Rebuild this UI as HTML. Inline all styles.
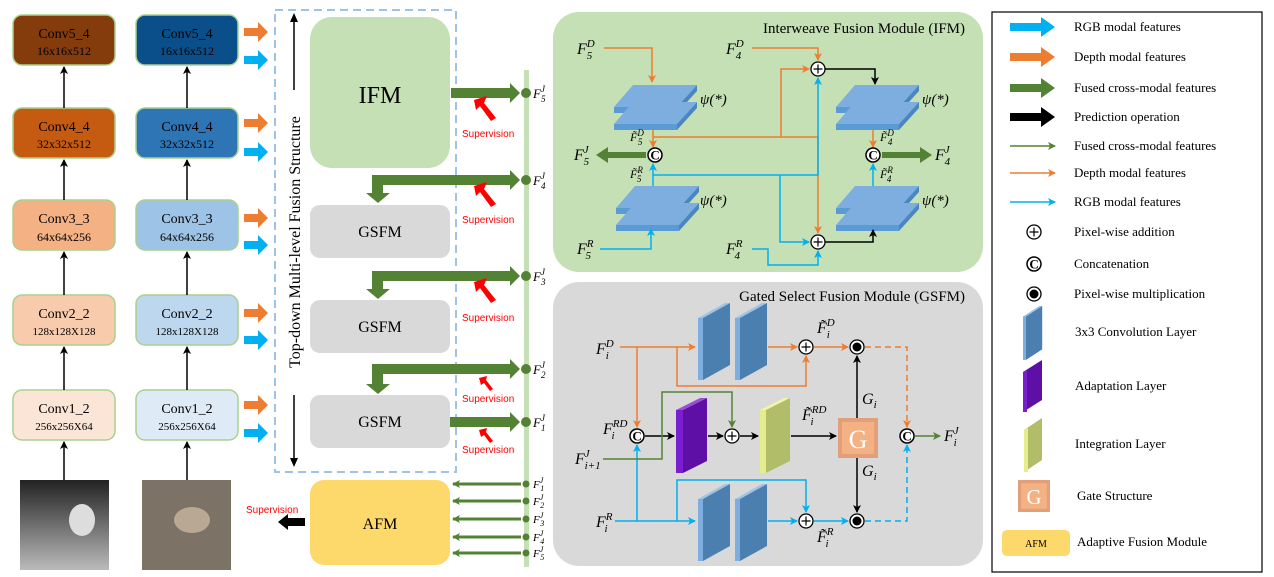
<!DOCTYPE html>
<html><head><meta charset="utf-8"><style>
html,body{margin:0;padding:0;background:#fff}
svg{display:block}
text{font-family:"Liberation Serif",serif}
.it{font-style:italic}
.sv{font-family:"Liberation Sans",sans-serif;fill:#ff0000;font-size:10px}
</style></head><body>
<svg width="1274" height="577" viewBox="0 0 1274 577" xmlns="http://www.w3.org/2000/svg">
<defs>
<marker id="ao" markerWidth="8" markerHeight="8" refX="7" refY="4" orient="auto" markerUnits="userSpaceOnUse"><path d="M0,0 L8,4 L0,8 L2,4z" fill="#ed7d31"/></marker>
<marker id="ab" markerWidth="8" markerHeight="8" refX="7" refY="4" orient="auto" markerUnits="userSpaceOnUse"><path d="M0,0 L8,4 L0,8 L2,4z" fill="#00b0f0"/></marker>
<marker id="ak" markerWidth="8" markerHeight="8" refX="7" refY="4" orient="auto" markerUnits="userSpaceOnUse"><path d="M0,0 L8,4 L0,8 L2,4z" fill="#000"/></marker>
<marker id="ag" markerWidth="8" markerHeight="8" refX="7" refY="4" orient="auto" markerUnits="userSpaceOnUse"><path d="M0,0 L8,4 L0,8 L2,4z" fill="#548235"/></marker>
<g id="plates">
<polygon points="0,22 19,0 83,0 63,22" fill="#7eaee0"/><polygon points="0,22 63,22 63,28 0,28" fill="#5b9bd5"/><polygon points="63,22 83,0 83,6 63,28" fill="#4a86c0"/>
<polygon points="0,39 19,17 83,17 63,39" fill="#7eaee0"/><polygon points="0,39 63,39 63,45 0,45" fill="#5b9bd5"/><polygon points="63,39 83,17 83,23 63,45" fill="#4a86c0"/>
</g>
<g id="conv"><polygon points="0,15 27,0 32,0 5,15" fill="#9dc3e6"/><polygon points="0,15 5,15 5,77 0,77" fill="#7eaee0"/><polygon points="5,15 32,0 32,62 5,77" fill="#4a7fb0"/></g>
<g id="plus"><circle r="7" fill="#fff" stroke="#000" stroke-width="1.3"/><path d="M-4.5,0H4.5M0,-4.5V4.5" stroke="#000" stroke-width="1.2"/></g>
<g id="cat"><circle r="7" fill="#fff" stroke="#000" stroke-width="1.5"/><text x="0" y="4.5" text-anchor="middle" font-size="13" font-weight="bold">C</text></g>
<g id="mul"><circle r="7" fill="#fff" stroke="#000" stroke-width="1.3"/><circle r="4.5" fill="#000"/></g>
<g id="gbox"><rect x="0" y="0" width="40" height="40" fill="#e2a07a"/><rect x="4" y="4" width="32" height="32" fill="#f4b183"/><text x="20" y="30" text-anchor="middle" font-size="26" fill="#fff">G</text></g>
<linearGradient id="dg" x1="0" y1="0" x2="0" y2="1"><stop offset="0" stop-color="#222"/><stop offset="1" stop-color="#bbb"/></linearGradient>
<g id="oa"><polygon points="244,24 258,24 258,18 268,28 258,38 258,32 244,32" fill="#ed7d31"/></g>
<g id="ba"><polygon points="244,46 258,46 258,40 268,50 258,60 258,54 244,54" fill="#00b0f0"/></g>
</defs>

<!-- Left columns -->
<g stroke="#a9d18e" stroke-width="1.5">
<rect x="13" y="15" width="102" height="50" rx="9" fill="#843c0c"/>
<rect x="13" y="108" width="102" height="50" rx="9" fill="#c55a11"/>
<rect x="13" y="200" width="102" height="50" rx="9" fill="#f4b183"/>
<rect x="13" y="295" width="102" height="50" rx="9" fill="#f8cbad"/>
<rect x="13" y="390" width="102" height="50" rx="9" fill="#fbe5d6"/>
<rect x="136" y="15" width="102" height="50" rx="9" fill="#0b4f8a"/>
<rect x="136" y="108" width="102" height="50" rx="9" fill="#2e75b6"/>
<rect x="136" y="200" width="102" height="50" rx="9" fill="#9dc3e6"/>
<rect x="136" y="295" width="102" height="50" rx="9" fill="#bdd7ee"/>
<rect x="136" y="390" width="102" height="50" rx="9" fill="#deebf7"/>
</g>
<g font-size="14" text-anchor="middle">
<text x="64" y="38">Conv5_4</text><text x="64" y="55" font-size="12">16x16x512</text>
<text x="64" y="131">Conv4_4</text><text x="64" y="148" font-size="12">32x32x512</text>
<text x="64" y="223">Conv3_3</text><text x="64" y="241" font-size="12">64x64x256</text>
<text x="64" y="318">Conv2_2</text><text x="64" y="335" font-size="11">128x128X128</text>
<text x="64" y="413">Conv1_2</text><text x="64" y="430" font-size="11">256x256X64</text>
<text x="187" y="38">Conv5_4</text><text x="187" y="55" font-size="12">16x16x512</text>
<text x="187" y="131">Conv4_4</text><text x="187" y="148" font-size="12">32x32x512</text>
<text x="187" y="223">Conv3_3</text><text x="187" y="241" font-size="12">64x64x256</text>
<text x="187" y="318">Conv2_2</text><text x="187" y="335" font-size="11">128x128X128</text>
<text x="187" y="413">Conv1_2</text><text x="187" y="430" font-size="11">256x256X64</text>
</g>
<g stroke="#000" stroke-width="1.5" marker-end="url(#ak)">
<line x1="64" y1="108" x2="64" y2="67"/><line x1="64" y1="200" x2="64" y2="160"/><line x1="64" y1="295" x2="64" y2="252"/><line x1="64" y1="390" x2="64" y2="347"/><line x1="64" y1="480" x2="64" y2="442"/>
<line x1="187" y1="108" x2="187" y2="67"/><line x1="187" y1="200" x2="187" y2="160"/><line x1="187" y1="295" x2="187" y2="252"/><line x1="187" y1="390" x2="187" y2="347"/><line x1="187" y1="480" x2="187" y2="442"/>
</g>
<rect x="20" y="480" width="89" height="90" fill="url(#dg)"/>
<ellipse cx="82" cy="520" rx="13" ry="16" fill="#ddd"/>
<rect x="142" y="480" width="89" height="90" fill="#7d7266"/>
<ellipse cx="192" cy="520" rx="18" ry="13" fill="#b8a894"/>
<use href="#oa" y="4"/><use href="#ba" y="10"/>
<use href="#oa" y="95"/><use href="#ba" y="102"/>
<use href="#oa" y="190"/><use href="#ba" y="195"/>
<use href="#oa" y="285"/><use href="#ba" y="290"/>
<use href="#oa" y="377"/><use href="#ba" y="383"/>

<!-- middle -->
<rect x="275" y="10" width="181" height="462" fill="none" stroke="#9dc3e6" stroke-width="2" stroke-dasharray="8,5"/>
<line x1="294" y1="18" x2="294" y2="90" stroke="#000" stroke-width="1.5"/>
<line x1="294" y1="395" x2="294" y2="462" stroke="#000" stroke-width="1.5"/>
<path d="M290,22 L294,13 L298,22z M290,458 L294,467 L298,458z" fill="#000"/>
<text transform="translate(300,242) rotate(-90)" text-anchor="middle" font-size="16">Top-down Multi-level Fusion Structure</text>
<rect x="310" y="17" width="140" height="151" rx="22" fill="#c5e0b4"/>
<text x="380" y="103" text-anchor="middle" font-size="24">IFM</text>
<rect x="310" y="205" width="140" height="53" rx="10" fill="#d9d9d9"/>
<rect x="310" y="300" width="140" height="53" rx="10" fill="#d9d9d9"/>
<rect x="310" y="395" width="140" height="53" rx="10" fill="#d9d9d9"/>
<text x="380" y="237" text-anchor="middle" font-size="16">GSFM</text>
<text x="380" y="332" text-anchor="middle" font-size="16">GSFM</text>
<text x="380" y="427" text-anchor="middle" font-size="16">GSFM</text>
<rect x="310" y="480" width="140" height="85" rx="14" fill="#fdd86a"/>
<text x="380" y="529" text-anchor="middle" font-size="16">AFM</text>
<rect x="524" y="70" width="5" height="497" fill="#c5e0b4"/>
<g fill="#548235">
<polygon points="451,88 510,88 510,83 520,93 510,103 510,98 451,98"/>
<polygon points="372,175 510,175 510,170 520,180 510,190 510,185 383,185 383,193 390,193 378,203 366,193 372,193"/>
<polygon points="372,271 510,271 510,266 520,276 510,286 510,281 383,281 383,289 390,289 378,299 366,289 372,289"/>
<polygon points="372,364 510,364 510,359 520,369 510,379 510,374 383,374 383,384 390,384 378,394 366,384 372,384"/>
<polygon points="450,417 510,417 510,412 520,422 510,432 510,427 450,427"/>
<circle cx="526" cy="93" r="5"/><circle cx="526" cy="180" r="5"/><circle cx="526" cy="276" r="5"/><circle cx="526" cy="369" r="5"/><circle cx="526" cy="422" r="5"/>
</g>
<g class="it" font-size="13">
<text x="533" y="98">F<tspan font-size="9" dy="-6">J</tspan><tspan font-size="9" dx="-4" dy="10">5</tspan></text>
<text x="533" y="185">F<tspan font-size="9" dy="-6">J</tspan><tspan font-size="9" dx="-4" dy="10">4</tspan></text>
<text x="533" y="281">F<tspan font-size="9" dy="-6">J</tspan><tspan font-size="9" dx="-4" dy="10">3</tspan></text>
<text x="533" y="374">F<tspan font-size="9" dy="-6">J</tspan><tspan font-size="9" dx="-4" dy="10">2</tspan></text>
<text x="533" y="427">F<tspan font-size="9" dy="-6">J</tspan><tspan font-size="9" dx="-4" dy="10">1</tspan></text>
</g>
<g fill="#ff0000">
<polygon points="474,100 487,96 484,103 496,118 491,121 480,106 476,110"/>
<polygon points="474,186 487,182 484,189 496,204 491,207 480,192 476,196"/>
<polygon points="474,282 487,278 484,285 496,300 491,303 480,288 476,292"/>
<polygon points="479,378 487,376 486,380 493,389 490,391 484,383 481,385"/>
<polygon points="479,430 487,428 486,432 493,441 490,443 484,435 481,437"/>
</g>
<text class="sv" x="462" y="137">Supervision</text>
<text class="sv" x="462" y="223">Supervision</text>
<text class="sv" x="462" y="321">Supervision</text>
<text class="sv" x="462" y="402">Supervision</text>
<text class="sv" x="462" y="453">Supervision</text>
<g stroke="#548235" stroke-width="3" marker-end="url(#ag)">
<line x1="521" y1="484" x2="453" y2="484"/><line x1="521" y1="501" x2="453" y2="501"/><line x1="521" y1="519" x2="453" y2="519"/><line x1="521" y1="537" x2="453" y2="537"/><line x1="521" y1="553" x2="453" y2="553"/>
</g>
<g fill="#548235"><circle cx="526" cy="484" r="3.5"/><circle cx="526" cy="501" r="3.5"/><circle cx="526" cy="519" r="3.5"/><circle cx="526" cy="537" r="3.5"/><circle cx="526" cy="553" r="3.5"/></g>
<g class="it" font-size="11">
<text x="533" y="488">F<tspan font-size="8" dy="-5">J</tspan><tspan font-size="8" dx="-3" dy="8">1</tspan></text>
<text x="533" y="505">F<tspan font-size="8" dy="-5">J</tspan><tspan font-size="8" dx="-3" dy="8">2</tspan></text>
<text x="533" y="523">F<tspan font-size="8" dy="-5">J</tspan><tspan font-size="8" dx="-3" dy="8">3</tspan></text>
<text x="533" y="541">F<tspan font-size="8" dy="-5">J</tspan><tspan font-size="8" dx="-3" dy="8">4</tspan></text>
<text x="533" y="557">F<tspan font-size="8" dy="-5">J</tspan><tspan font-size="8" dx="-3" dy="8">5</tspan></text>
</g>
<polygon points="305,518 288,518 288,514 278,522 288,530 288,526 305,526" fill="#000"/>
<text class="sv" x="246" y="513">Supervision</text>

<!-- IFM panel -->
<rect x="553" y="12" width="430" height="260" rx="26" fill="#c5e0b4"/>
<text x="965" y="33" text-anchor="end" font-size="15">Interweave Fusion Module (IFM)</text>
<use href="#plates" x="614" y="85"/><use href="#plates" x="616" y="186"/>
<use href="#plates" x="836" y="85"/><use href="#plates" x="836" y="186"/>
<g font-size="15" class="it"><text x="700" y="104">ψ(*)</text><text x="700" y="205">ψ(*)</text><text x="922" y="104">ψ(*)</text><text x="922" y="205">ψ(*)</text></g>
<g fill="none" stroke-width="1.5">
<path d="M604,48H652V82" stroke="#ed7d31" marker-end="url(#ao)"/>
<path d="M653,130V147" stroke="#ed7d31" marker-end="url(#ao)"/>
<path d="M653,137H818V233" stroke="#ed7d31" marker-end="url(#ao)"/>
<path d="M781,137V69H809" stroke="#ed7d31" marker-end="url(#ao)"/>
<path d="M752,48H818V60" stroke="#ed7d31" marker-end="url(#ao)"/>
<path d="M873,130V147" stroke="#ed7d31" marker-end="url(#ao)"/>
<path d="M653,186V164" stroke="#00b0f0" marker-end="url(#ab)"/>
<path d="M653,175H818V78" stroke="#00b0f0" marker-end="url(#ab)"/>
<path d="M780,175V242H809" stroke="#00b0f0" marker-end="url(#ab)"/>
<path d="M600,249H651V229" stroke="#00b0f0" marker-end="url(#ab)"/>
<path d="M752,249H768V265H818V251" stroke="#00b0f0" marker-end="url(#ab)"/>
<path d="M873,186V164" stroke="#00b0f0" marker-end="url(#ab)"/>
<path d="M825,69H875V84" stroke="#000" marker-end="url(#ak)"/>
<path d="M825,242H873V230" stroke="#000" marker-end="url(#ak)"/>
</g>
<use href="#plus" x="818" y="69"/><use href="#plus" x="818" y="242"/>
<use href="#cat" x="655" y="155"/><use href="#cat" x="873" y="155"/>
<polygon points="646,152 608,152 608,147 596,155 608,163 608,158 646,158" fill="#548235"/>
<polygon points="882,152 920,152 920,147 932,155 920,163 920,158 882,158" fill="#548235"/>
<g class="it" font-size="16">
<text x="577" y="54">F<tspan font-size="11" dy="-7">D</tspan><tspan font-size="11" dx="-8" dy="12">5</tspan></text>
<text x="726" y="54">F<tspan font-size="11" dy="-7">D</tspan><tspan font-size="11" dx="-8" dy="12">4</tspan></text>
<text x="577" y="254">F<tspan font-size="11" dy="-7">R</tspan><tspan font-size="11" dx="-8" dy="12">5</tspan></text>
<text x="726" y="254">F<tspan font-size="11" dy="-7">R</tspan><tspan font-size="11" dx="-8" dy="12">4</tspan></text>
<text x="574" y="160">F<tspan font-size="11" dy="-7">J</tspan><tspan font-size="11" dx="-5" dy="12">5</tspan></text>
<text x="935" y="160">F<tspan font-size="11" dy="-7">J</tspan><tspan font-size="11" dx="-5" dy="12">4</tspan></text>
</g>
<g class="it" font-size="12">
<text x="630" y="141">F̃<tspan font-size="9" dy="-5">D</tspan><tspan font-size="9" dx="-6" dy="9">5</tspan></text>
<text x="630" y="178">F̃<tspan font-size="9" dy="-5">R</tspan><tspan font-size="9" dx="-6" dy="9">5</tspan></text>
<text x="880" y="141">F̃<tspan font-size="9" dy="-5">D</tspan><tspan font-size="9" dx="-6" dy="9">4</tspan></text>
<text x="880" y="178">F̃<tspan font-size="9" dy="-5">R</tspan><tspan font-size="9" dx="-6" dy="9">4</tspan></text>
</g>

<!-- GSFM panel -->
<rect x="553" y="282" width="430" height="284" rx="26" fill="#d9d9d9"/>
<text x="965" y="301" text-anchor="end" font-size="15">Gated Select Fusion Module (GSFM)</text>
<use href="#conv" x="698" y="303"/><use href="#conv" x="735" y="303"/>
<use href="#conv" x="698" y="484"/><use href="#conv" x="735" y="484"/>
<polygon points="676,410 700,398 707,398 683,410" fill="#9b4fd8"/><polygon points="676,410 683,410 683,473 676,473" fill="#7a1fd0"/><polygon points="683,410 707,398 707,461 683,473" fill="#5e0fa6"/>
<polygon points="760,410 784,398 790,398 766,410" fill="#f0f5a8"/><polygon points="760,410 766,410 766,473 760,473" fill="#e5ee8a"/><polygon points="766,410 790,398 790,461 766,473" fill="#b2bd6a"/>
<use href="#gbox" x="838" y="418"/>
<g fill="none" stroke-width="1.5">
<path d="M620,347H695" stroke="#ed7d31" marker-end="url(#ao)"/>
<path d="M637,347V427" stroke="#ed7d31" marker-end="url(#ao)"/>
<path d="M677,347V386H806V356" stroke="#ed7d31" marker-end="url(#ao)"/>
<path d="M768,347H797" stroke="#ed7d31" marker-end="url(#ao)"/>
<path d="M814,347H848" stroke="#ed7d31" marker-end="url(#ao)"/>
<path d="M865,347H907V427" stroke="#ed7d31" stroke-dasharray="6,4" marker-end="url(#ao)"/>
<path d="M615,521H695" stroke="#00b0f0" marker-end="url(#ab)"/>
<path d="M637,521V445" stroke="#00b0f0" marker-end="url(#ab)"/>
<path d="M677,521V480H806V512" stroke="#00b0f0" marker-end="url(#ab)"/>
<path d="M768,521H797" stroke="#00b0f0" marker-end="url(#ab)"/>
<path d="M814,521H848" stroke="#00b0f0" marker-end="url(#ab)"/>
<path d="M865,521H907V445" stroke="#00b0f0" stroke-dasharray="6,4" marker-end="url(#ab)"/>
<path d="M645,436H674" stroke="#000" marker-end="url(#ak)"/>
<path d="M708,436H723" stroke="#000" marker-end="url(#ak)"/>
<path d="M740,436H758" stroke="#000" marker-end="url(#ak)"/>
<path d="M791,436H836" stroke="#000" marker-end="url(#ak)"/>
<path d="M857,418V356" stroke="#000" marker-end="url(#ak)"/>
<path d="M857,458V512" stroke="#000" marker-end="url(#ak)"/>
<path d="M603,459H662V392H732V427" stroke="#548235" marker-end="url(#ag)"/>
<path d="M915,436H940" stroke="#548235" marker-end="url(#ag)"/>
</g>
<use href="#plus" x="806" y="347"/><use href="#plus" x="806" y="521"/><use href="#plus" x="732" y="436"/>
<use href="#mul" x="857" y="347"/><use href="#mul" x="857" y="521"/>
<use href="#cat" x="637" y="436"/><use href="#cat" x="907" y="436"/>
<g class="it" font-size="16">
<text x="596" y="354">F<tspan font-size="11" dy="-7">D</tspan><tspan font-size="11" dx="-8" dy="12">i</tspan></text>
<text x="596" y="527">F<tspan font-size="11" dy="-7">R</tspan><tspan font-size="11" dx="-8" dy="12">i</tspan></text>
<text x="603" y="434">F<tspan font-size="11" dy="-7">RD</tspan><tspan font-size="11" dx="-16" dy="12">i</tspan></text>
<text x="575" y="464">F<tspan font-size="11" dy="-7">J</tspan><tspan font-size="11" dx="-5" dy="12">i+1</tspan></text>
<text x="944" y="441">F<tspan font-size="11" dy="-7">J</tspan><tspan font-size="11" dx="-5" dy="12">i</tspan></text>
<text x="817" y="333">F̃<tspan font-size="11" dy="-7">D</tspan><tspan font-size="11" dx="-8" dy="12">i</tspan></text>
<text x="817" y="542">F̃<tspan font-size="11" dy="-7">R</tspan><tspan font-size="11" dx="-8" dy="12">i</tspan></text>
<text x="802" y="420">F̃<tspan font-size="11" dy="-7">RD</tspan><tspan font-size="11" dx="-16" dy="12">i</tspan></text>
<text x="862" y="404">G<tspan font-size="11" dy="4">i</tspan></text>
<text x="862" y="476">G<tspan font-size="11" dy="4">i</tspan></text>
</g>

<!-- Legend -->
<rect x="992" y="12" width="270" height="560" fill="#fff" stroke="#000" stroke-width="1.2"/>
<g font-size="13">
<text x="1074" y="31">RGB modal features</text>
<text x="1074" y="61">Depth modal features</text>
<text x="1074" y="92">Fused cross-modal features</text>
<text x="1074" y="121">Prediction operation</text>
<text x="1074" y="150">Fused cross-modal features</text>
<text x="1074" y="177">Depth modal features</text>
<text x="1074" y="206">RGB modal features</text>
<text x="1074" y="236">Pixel-wise addition</text>
<text x="1074" y="268">Concatenation</text>
<text x="1074" y="298">Pixel-wise multiplication</text>
<text x="1075" y="336">3x3 Convolution Layer</text>
<text x="1075" y="390">Adaptation Layer</text>
<text x="1075" y="448">Integration Layer</text>
<text x="1077" y="500">Gate Structure</text>
<text x="1077" y="546">Adaptive Fusion Module</text>
</g>
<polygon points="1010,23 1041,23 1041,17 1055,27 1041,37 1041,31 1010,31" fill="#00b0f0"/>
<polygon points="1010,53 1041,53 1041,47 1055,57 1041,67 1041,61 1010,61" fill="#ed7d31"/>
<polygon points="1010,84 1041,84 1041,78 1055,88 1041,98 1041,92 1010,92" fill="#548235"/>
<polygon points="1010,113 1041,113 1041,107 1055,117 1041,127 1041,121 1010,121" fill="#000"/>
<line x1="1010" y1="146" x2="1055" y2="146" stroke="#548235" stroke-width="1.5" marker-end="url(#ag)"/>
<line x1="1010" y1="173" x2="1055" y2="173" stroke="#ed7d31" stroke-width="1.5" marker-end="url(#ao)"/>
<line x1="1010" y1="202" x2="1055" y2="202" stroke="#00b0f0" stroke-width="1.5" marker-end="url(#ab)"/>
<use href="#plus" x="1034" y="232"/>
<use href="#cat" x="1034" y="264"/>
<use href="#mul" x="1034" y="294"/>
<g transform="translate(1023,306) scale(0.6,0.7)"><use href="#conv"/></g>
<polygon points="1023,372 1042,360 1042,400 1023,412" fill="#5e0fa6"/><polygon points="1023,372 1027,370 1027,412 1023,412" fill="#7a1fd0"/>
<polygon points="1024,430 1042,418 1042,460 1024,472" fill="#b2bd6a"/><polygon points="1024,430 1028,428 1028,472 1024,472" fill="#e5ee8a"/>
<g transform="translate(1018,480) scale(0.8)"><use href="#gbox"/></g>
<rect x="1002" y="530" width="68" height="26" rx="5" fill="#fdd86a"/>
<text x="1036" y="547" text-anchor="middle" font-size="10">AFM</text>
</svg>
</body></html>
